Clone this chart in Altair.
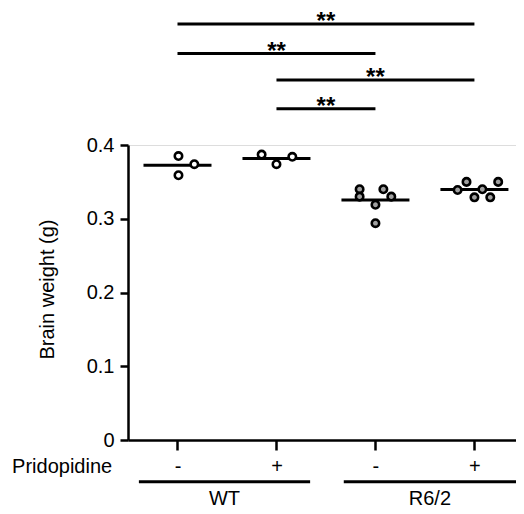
import altair as alt
import pandas as pd

# ---- data ----
groups = ["WT-", "WT+", "R6/2-", "R6/2+"]
group_pos = [1, 2, 3, 4]
group_fill = ["white", "white", "#a0a0a0", "#a0a0a0"]
tick_labels = ["-", "+", "-", "+"]

wt_minus = [0.385, 0.374, 0.359]
wt_plus = [0.387, 0.374, 0.384]
r62_minus = [0.340, 0.330, 0.340, 0.330, 0.319, 0.294]
r62_plus = [0.339, 0.350, 0.329, 0.340, 0.329, 0.350]

# horizontal jitter of each dot (in category units)
wt_minus_jit = [0.01, 0.17, 0.01]
wt_plus_jit = [-0.15, 0.0, 0.16]
r62_minus_jit = [-0.16, -0.16, 0.08, 0.16, 0.0, 0.0]
r62_plus_jit = [-0.17, -0.08, 0.0, 0.08, 0.16, 0.24]

# significance brackets: from group, to group, height (g), label
br_from = [1, 1, 2, 2]
br_to = [4, 3, 4, 3]
br_y = [0.564, 0.524, 0.488, 0.449]
br_label = ["**", "**", "**", "**"]

genotypes = ["WT", "R6/2"]
geno_start = [1, 3]
geno_end = [2, 4]

# ---- build tables ----
rows = []
for g, p, f, vals, jit in zip(groups, group_pos, group_fill,
                              [wt_minus, wt_plus, r62_minus, r62_plus],
                              [wt_minus_jit, wt_plus_jit, r62_minus_jit, r62_plus_jit]):
    for v, j in zip(vals, jit):
        rows.append({"group": g, "pos": p, "xj": p + j, "value": v, "fill": f})
pts = pd.DataFrame(rows)

brackets = pd.DataFrame({"x1": br_from, "x2": br_to, "y": br_y, "label": br_label})
brackets["xm"] = (brackets["x1"] + brackets["x2"]) / 2

geno = pd.DataFrame({"name": genotypes, "s": geno_start, "e": geno_end})
geno["x1"] = geno["s"] + pd.Series([-0.39, -0.32])
geno["x2"] = geno["e"] + pd.Series([0.34, 0.42])
geno["xm"] = (geno["x1"] + geno["x2"]) / 2
geno["yl"] = -0.0565
geno["yt"] = -0.080

side = pd.DataFrame({"t": ["Pridopidine"], "x": [0.34], "y": [-0.036]})

FONT = "Liberation Sans"
FS = 20
xscale = alt.Scale(domain=[0.5, 4.42], nice=False, zero=False)
yscale = alt.Scale(domain=[0, 0.4], nice=False)

label_expr = "datum.value == 1 ? '-' : datum.value == 2 ? '+' : datum.value == 3 ? '-' : '+'"

base = alt.Chart(pts)

dots = base.mark_point(shape="circle", filled=False, size=55, strokeWidth=2.6,
                       stroke="black", opacity=1).encode(
    x=alt.X("xj:Q", scale=xscale,
            axis=alt.Axis(values=group_pos, labelExpr=label_expr, title=None,
                          grid=False, domainColor="black", domainWidth=2.5,
                          tickColor="black", tickWidth=2.5, tickSize=10,
                          labelFont=FONT, labelFontSize=FS, labelColor="black",
                          labelPadding=6)),
    y=alt.Y("value:Q", scale=yscale,
            axis=alt.Axis(values=[0, 0.1, 0.2, 0.3, 0.4],
                          labelExpr="datum.value == 0 ? '0' : format(datum.value, '.1f')",
                          title="Brain weight (g)", grid=False,
                          domainColor="black", domainWidth=2.5,
                          tickColor="black", tickWidth=2.5, tickSize=8,
                          labelFont=FONT, labelFontSize=FS, labelColor="black",
                          labelPadding=6,
                          titleFont=FONT, titleFontSize=FS, titleFontWeight="normal",
                          titleColor="black", titleAngle=270, titleX=-81, titleY=144,
                          titleAlign="center", titleBaseline="middle")),
    fill=alt.Fill("fill:N", scale=None),
)

means = base.mark_tick(orient="horizontal", size=68, thickness=3, color="black").encode(
    x=alt.X("pos:Q", scale=xscale),
    y=alt.Y("mean(value):Q", scale=yscale),
    detail="group:N",
)

br_lines = alt.Chart(brackets).mark_rule(color="black", strokeWidth=3).encode(
    x=alt.X("x1:Q", scale=xscale), x2="x2:Q",
    y=alt.Y("y:Q", scale=yscale),
)
br_text = alt.Chart(brackets).mark_text(font=FONT, fontSize=24, fontWeight="bold",
                                        baseline="alphabetic", dy=5, color="black").encode(
    x=alt.X("xm:Q", scale=xscale), y=alt.Y("y:Q", scale=yscale), text="label:N",
)

g_lines = alt.Chart(geno).mark_rule(color="black", strokeWidth=3).encode(
    x=alt.X("x1:Q", scale=xscale), x2="x2:Q", y=alt.Y("yl:Q", scale=yscale),
)
g_text = alt.Chart(geno).mark_text(font=FONT, fontSize=FS, baseline="middle",
                                   color="black").encode(
    x=alt.X("xm:Q", scale=xscale), y=alt.Y("yt:Q", scale=yscale), text="name:N",
)
s_text = alt.Chart(side).mark_text(font=FONT, fontSize=FS, baseline="middle",
                                   align="right", color="black").encode(
    x=alt.X("x:Q", scale=xscale), y=alt.Y("y:Q", scale=yscale), text="t:N",
)

chart = alt.layer(means, dots, br_lines, br_text, g_lines, g_text, s_text).properties(
    width=388, height=295,
    autosize=alt.AutoSizeParams(type="none"),
    padding={"left": 120, "top": 137, "right": 0, "bottom": 68},
).configure_view(stroke=None).configure(background="white")

chart.save("out.html", embed_options={"renderer": "svg", "actions": False})
